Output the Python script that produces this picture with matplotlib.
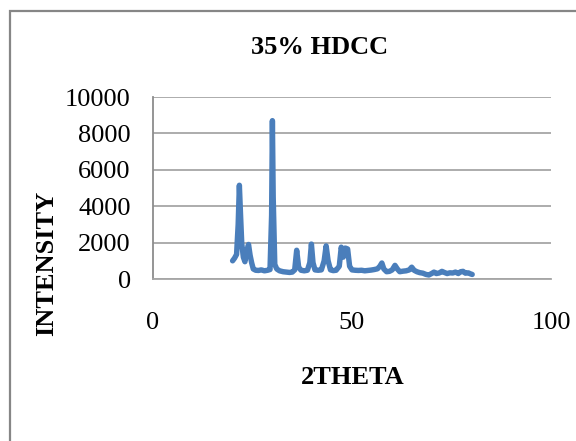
import matplotlib
matplotlib.use("Agg")
import matplotlib.pyplot as plt
from matplotlib.patches import Rectangle

# XRD pattern, values
two_theta = [20.0, 20.5, 21.0, 21.4, 21.7, 22.0, 22.3, 22.7, 23.1, 23.5,
             24.0, 24.4, 24.8, 25.2, 25.8, 26.5, 27.2, 28.0, 28.8, 29.4,
             29.8, 30.0, 30.2, 30.6, 31.1, 31.8, 32.7, 33.5, 34.3, 35.0,
             35.6, 36.1, 36.6, 37.2, 38.0, 38.8, 39.4, 39.8, 40.2, 40.7,
             41.5, 42.3, 43.0, 43.5, 44.0, 44.6, 45.3, 46.0, 46.8, 47.3,
             47.8, 48.3, 48.9, 49.4, 50.0, 50.8, 51.6, 52.4, 53.2, 54.0,
             54.8, 55.6, 56.4, 57.0, 57.5, 58.0, 58.7, 59.4, 60.1, 60.8,
             61.4, 62.0, 62.8, 63.6, 64.4, 65.0, 65.6, 66.3, 67.0, 67.8,
             68.6, 69.3, 70.0, 70.6, 71.2, 71.9, 72.6, 73.2, 73.9, 74.6,
             75.3, 76.0, 76.7, 77.3, 77.9, 78.5, 79.2, 79.8, 80.2]
intensity = [1000, 1150, 1350, 3000, 5150, 3500, 1950, 1200, 950, 1500,
             1900, 1300, 880, 550, 480, 470, 500, 450, 480, 520,
             3500, 8700, 4500, 800, 550, 450, 400, 380, 360, 380,
             500, 1580, 650, 480, 450, 480, 900, 1920, 900, 500,
             480, 500, 1000, 1820, 1000, 500, 460, 480, 700, 1750,
             1200, 1700, 1650, 700, 500, 480, 470, 480, 450, 470,
             490, 520, 560, 700, 880, 550, 400, 420, 500, 750,
             550, 400, 430, 450, 500, 650, 480, 400, 350, 320,
             250, 220, 300, 380, 300, 330, 420, 360, 300, 340,
             330, 380, 300, 400, 420, 320, 340, 280, 250]

x_ticks = [0, 50, 100]
y_ticks = [0, 2000, 4000, 6000, 8000, 10000]

W, H = 576, 441
plt.rcParams['font.family'] = ['Liberation Serif', 'DejaVu Serif']

fig = plt.figure(figsize=(W / 100, H / 100), dpi=100)
ax = fig.add_axes([153 / W, 1 - 279 / H, (551 - 153) / W, (279 - 97) / H])

ax.plot(two_theta, intensity, color='#4a7ebb', lw=3.9,
        solid_joinstyle='round', solid_capstyle='round')

ax.set_xlim(0, 100)
ax.set_ylim(0, 10000)
ax.set_xticks(x_ticks)
ax.set_yticks(y_ticks)
ax.tick_params(length=0, labelsize=19)
ax.tick_params(axis='x', pad=24)
ax.tick_params(axis='y', pad=16)
ax.grid(axis='y', color='#a6a6a6', lw=1.3)
ax.set_axisbelow(True)
for s in ['top', 'right']:
    ax.spines[s].set_visible(False)
ax.spines['left'].set_color('#8c8c8c')
ax.spines['bottom'].set_color('#a6a6a6')
ax.spines['left'].set_linewidth(1.3)
ax.spines['bottom'].set_linewidth(1.3)

fig.text(320 / W, 1 - 48 / H, '35% HDCC', ha='center', va='center',
         fontsize=19, fontweight='bold')
fig.text(353 / W, 1 - 378 / H, '2THETA', ha='center', va='center',
         fontsize=19, fontweight='bold')
fig.text(47 / W, 1 - 263 / H, 'INTENSITY', ha='center', va='center',
         rotation=90, fontsize=19, fontweight='bold')

# chart border, cut off at right and bottom like the original
fig.patches.append(Rectangle((10 / W, -0.1), 1.2, 1 - 11 / H + 0.1,
                             transform=fig.transFigure, fill=False,
                             edgecolor='#868686', lw=1.6))

fig.savefig('out.png', dpi=100)
